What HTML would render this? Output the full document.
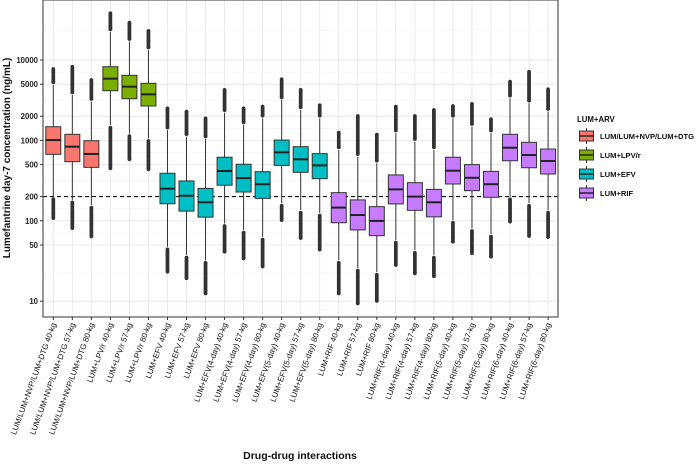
<!DOCTYPE html>
<html><head><meta charset="utf-8"><style>
html,body{margin:0;padding:0;background:#fff}
svg{display:block;font-family:"Liberation Sans",Arial,sans-serif}
</style></head><body>
<svg id="chart" width="696" height="465" viewBox="0 0 696 465"></svg>
<script>
const categories=["LUM/LUM+NVP/LUM+DTG 40-kg","LUM/LUM+NVP/LUM+DTG 57-kg","LUM/LUM+NVP/LUM+DTG 80-kg","LUM+LPV/r 40-kg","LUM+LPV/r 57-kg","LUM+LPV/r 80-kg","LUM+EFV 40-kg","LUM+EFV 57-kg","LUM+EFV 80-kg","LUM+EFV(4-day) 40-kg","LUM+EFV(4-day) 57-kg","LUM+EFV(4-day) 80-kg","LUM+EFV(5-day) 40-kg","LUM+EFV(5-day) 57-kg","LUM+EFV(5-day) 80-kg","LUM+RIF 40-kg","LUM+RIF 57-kg","LUM+RIF 80-kg","LUM+RIF(4-day) 40-kg","LUM+RIF(4-day) 57-kg","LUM+RIF(4-day) 80-kg","LUM+RIF(5-day) 40-kg","LUM+RIF(5-day) 57-kg","LUM+RIF(5-day) 80-kg","LUM+RIF(6-day) 40-kg","LUM+RIF(6-day) 57-kg","LUM+RIF(6-day) 80-kg"];
const groups=[0,0,0,1,1,1,2,2,2,2,2,2,2,2,2,3,3,3,3,3,3,3,3,3,3,3,3];
const groupNames=["LUM/LUM+NVP/LUM+DTG","LUM+LPV/r","LUM+EFV","LUM+RIF"];
const medians=[1010,836,678,5860,4660,3740,251,205,170,416,340,285,711,582,489,146,118,99.6,246,200,170,420,343,285,811,658,554];
const q1s=[671,543,462,4150,3300,2680,163,132,111,277,228,190,489,401,334,94.6,77,65.3,162,135,112,287,237,196,558,457,382];
const q3s=[1480,1190,990,8250,6450,5130,390,313,253,617,505,408,1010,836,684,224,182,150,372,298,246,617,500,412,1190,946,781];
const whiskerLow=[200,182,157,1550,1220,1060,47.6,37.6,32.5,93,76.9,63,166,136,125,32.5,25.9,23,57.7,43.3,37.6,102,80.7,68.6,200,166,136];
const whiskerHigh=[4890,3670,3030,22300,16900,13300,1340,1110,1040,2200,1550,1880,3180,2390,1880,760,627,519,1230,963,760,1880,1480,1230,3340,2900,2280];
const outlierMin=[108,81,64,450,582,437,23.3,19.3,12.5,41.3,34.1,27,102,61,44,12.5,9.4,10.1,28.2,22.2,20.4,55,39.5,35.8,97.5,64.7,62.8];
const outlierMax=[7730,8250,5640,38100,29100,22900,2500,2280,1880,4240,2500,2630,5750,4240,2730,1250,2010,1180,2630,2010,2390,2680,2840,1830,5370,7150,4330];
const yTicks=[10,50,100,200,500,1000,2000,5000,10000];
const refLine=200;
const colors=["#F8766D","#7CAE00","#00BFC4","#C77CFF"];

const NS="http://www.w3.org/2000/svg";
const svg=document.getElementById('chart');
const P={l:43,r:558,t:0,b:317};
function y(v){return 60+(4-Math.log10(v))*80.4;}
function x(i){return 53.3+i*19.03;}
function mk(tag,attrs,parent){const e=document.createElementNS(NS,tag);for(const k in attrs)e.setAttribute(k,attrs[k]);(parent||svg).appendChild(e);return e;}

const grid=mk('g',{});


const ext=[Math.pow(10,0.8)].concat(yTicks).concat([55000]);
for(let i=0;i<ext.length-1;i++){const m=Math.sqrt(ext[i]*ext[i+1]);const yy=y(m);if(yy>P.t&&yy<P.b)mk('line',{x1:P.l,x2:P.r,y1:yy,y2:yy,stroke:'#f2f2f2','stroke-width':0.6},grid);}
yTicks.forEach(t=>mk('line',{x1:P.l,x2:P.r,y1:y(t),y2:y(t),stroke:'#e5e5e5','stroke-width':0.8},grid));
categories.forEach((c,i)=>mk('line',{x1:x(i),x2:x(i),y1:P.t,y2:P.b,stroke:'#e5e5e5','stroke-width':0.8},grid));

const ref=mk('line',{x1:P.l,x2:P.r,y1:y(refLine),y2:y(refLine),stroke:'#111','stroke-width':1.1,'stroke-dasharray':'4,3'});



const boxes=mk('g',{});


categories.forEach((c,i)=>{
  const g=mk('g',{},boxes);
  
  
  const cx=x(i),w=7.5;
  const drawOut=(a,b)=>{const y1=y(a),y2=y(b);const lo=Math.min(y1,y2),hi=Math.max(y1,y2);for(let yy=lo;yy<=hi;yy+=1.6)mk('circle',{cx:cx,cy:yy,r:1.9,fill:'#333'},g);mk('circle',{cx:cx,cy:hi,r:1.9,fill:'#333'},g);};
  drawOut(whiskerHigh[i]*1.08,outlierMax[i]);
  drawOut(outlierMin[i],whiskerLow[i]/1.08);
  mk('line',{x1:cx,x2:cx,y1:y(whiskerHigh[i]),y2:y(q3s[i]),stroke:'#333','stroke-width':1},g);
  mk('line',{x1:cx,x2:cx,y1:y(q1s[i]),y2:y(whiskerLow[i]),stroke:'#333','stroke-width':1},g);
  mk('rect',{x:cx-w,y:y(q3s[i]),width:2*w,height:y(q1s[i])-y(q3s[i]),fill:colors[groups[i]],stroke:'#333','stroke-width':1},g);
  mk('line',{x1:cx-w,x2:cx+w,y1:y(medians[i]),y2:y(medians[i]),stroke:'#222','stroke-width':2},g);
});

const border=mk('rect',{x:P.l,y:P.t,width:P.r-P.l,height:P.b-P.t,fill:'none',stroke:'#555','stroke-width':1.2});



const ya=mk('g',{});


yTicks.forEach(t=>{mk('line',{x1:P.l-3,x2:P.l,y1:y(t),y2:y(t),stroke:'#333'},ya);const tx=mk('text',{x:P.l-5,y:y(t)+3,'text-anchor':'end','font-size':7.8,'font-weight':'bold',fill:'#222'},ya);tx.textContent=t;});
const xa=mk('g',{});


categories.forEach((c,i)=>{mk('line',{x1:x(i),x2:x(i),y1:P.b,y2:P.b+3,stroke:'#333'},xa);const tx=mk('text',{transform:`translate(${x(i)+3},${P.b+7}) rotate(-70)`,'text-anchor':'end','font-size':7.9,fill:'#111'},xa);tx.textContent=c;});

const yt=mk('text',{transform:'translate(10,158) rotate(-90)','text-anchor':'middle','font-size':10,'font-weight':'bold',fill:'#111'});


yt.textContent='Lumefantrine day-7 concentration (ng/mL)';
const xt=mk('text',{x:300,y:459,'text-anchor':'middle','font-size':10.5,'font-weight':'bold',fill:'#111'});


xt.textContent='Drug-drug interactions';

const lg=mk('g',{});


const lt=mk('text',{x:577,y:122,'font-size':7.8,'font-weight':'bold',fill:'#111'},lg);
lt.textContent='LUM+ARV';
groupNames.forEach((n,i)=>{
  const e=mk('g',{},lg);
  
  
  const cy=136+i*19;
  mk('line',{x1:586.5,x2:586.5,y1:cy-8,y2:cy+8,stroke:'#333'},e);
  mk('rect',{x:579.5,y:cy-5,width:14,height:10,fill:colors[i],stroke:'#333'},e);
  mk('line',{x1:579.5,x2:593.5,y1:cy,y2:cy,stroke:'#222','stroke-width':1.5},e);
  const t=mk('text',{x:600,y:cy+3,'font-size':7.6,'font-weight':'bold',fill:'#111'},e);t.textContent=n;
});
</script>
</body></html>
